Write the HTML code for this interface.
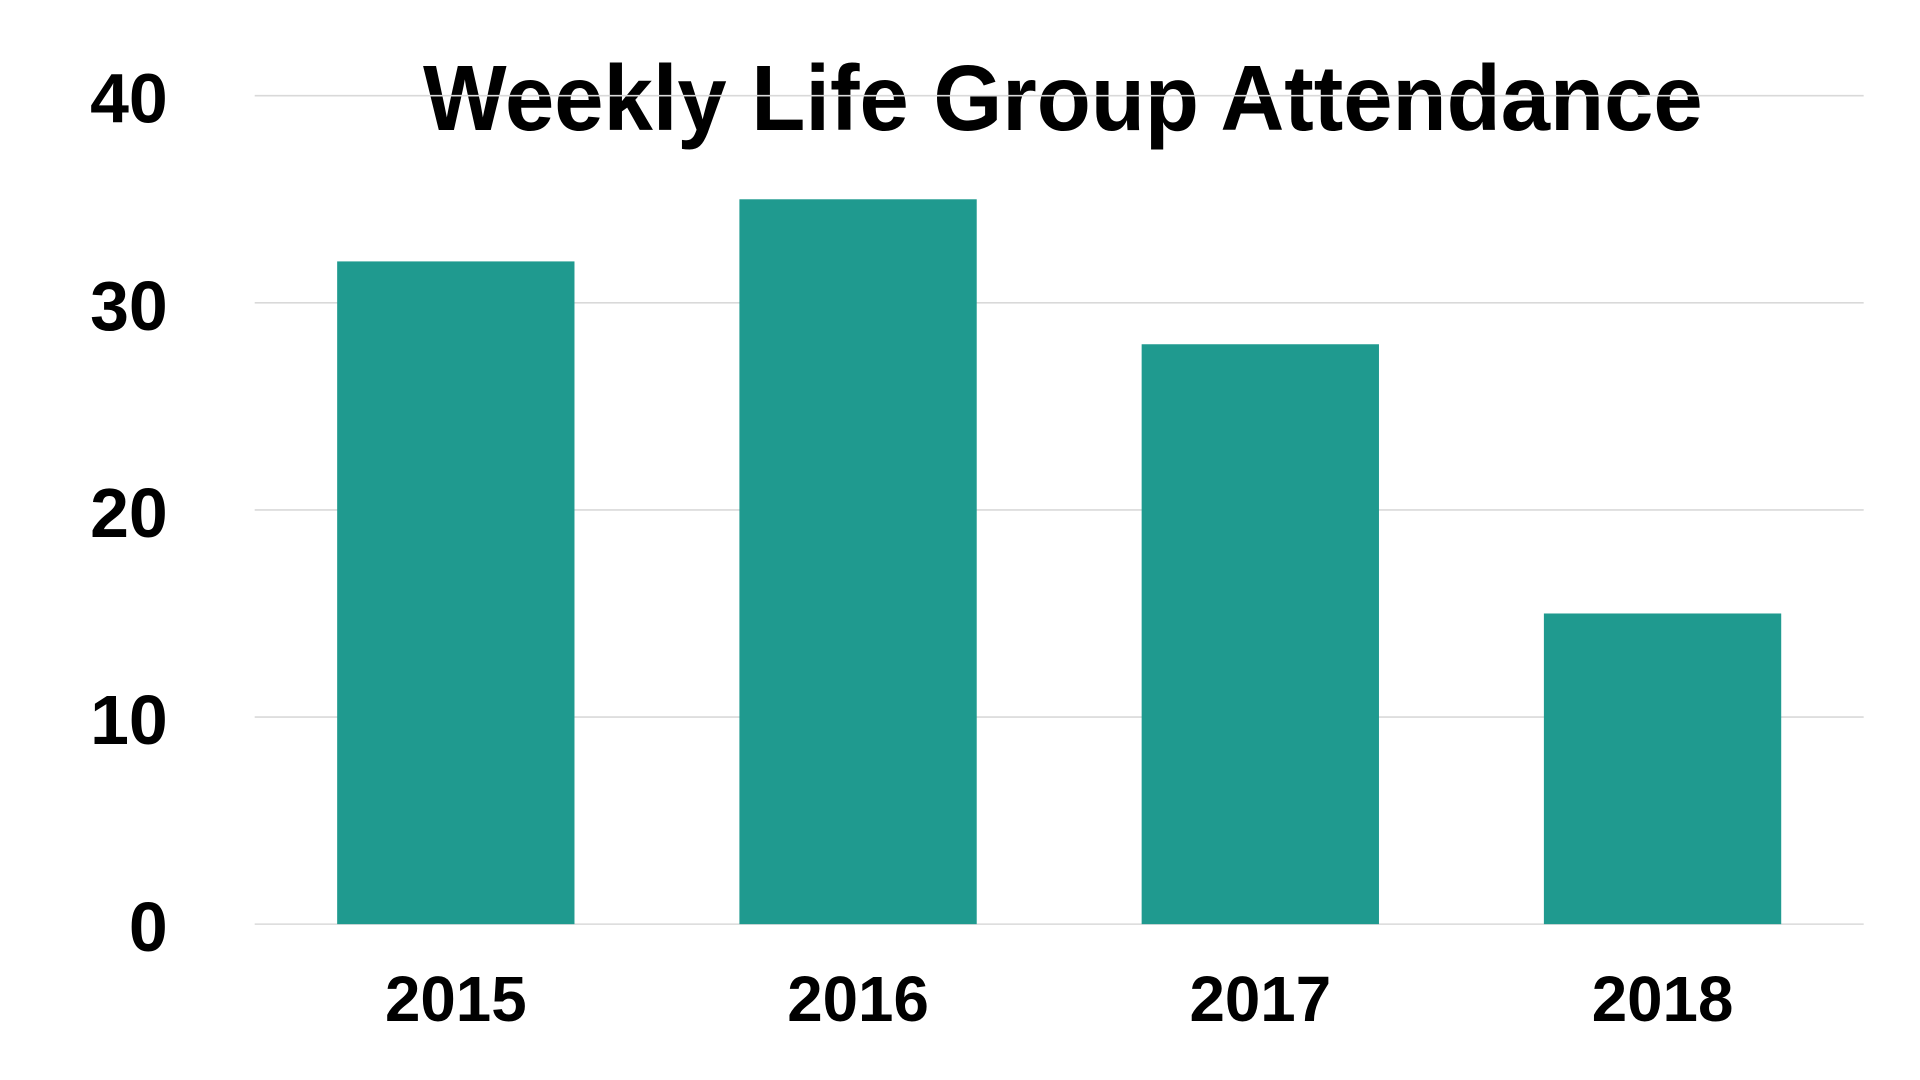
<!DOCTYPE html>
<html><head><meta charset="utf-8"><style>
html,body{margin:0;padding:0;background:#fff;width:1920px;height:1080px;overflow:hidden}
svg{display:block}
text{font-family:"Liberation Sans",sans-serif;font-weight:bold;fill:#000}
</style></head><body>
<svg id="chart" width="1920" height="1080" viewBox="0 0 1568 880" preserveAspectRatio="none" xmlns="http://www.w3.org/2000/svg">
<text x="868" y="106" text-anchor="middle" font-size="76" textLength="1045" lengthAdjust="spacingAndGlyphs">Weekly Life Group Attendance</text>
<g id="grid"></g>
<g id="bars"></g>
<g id="ylab"></g>
<g id="xlab"></g>
</svg>
<script>
const categories = ["2015","2016","2017","2018"];
const values = [32, 35, 28, 15];
const yTicks = [0, 10, 20, 30, 40];
const NS = "http://www.w3.org/2000/svg";
const x0 = 208, x1 = 1522, yTop = 78, yBot = 753, yMax = 40;
function yScale(v){ return yBot - (v / yMax) * (yBot - yTop); }
const band = (x1 - x0) / categories.length;
function xCenter(i){ return x0 + band * (i + 0.5); }
const barW = band * 0.59;
const grid = document.getElementById('grid');
const ylab = document.getElementById('ylab');
yTicks.forEach(t => {
  const l = document.createElementNS(NS, 'line');
  
  
  l.setAttribute('x1', x0); l.setAttribute('x2', x1);
  l.setAttribute('y1', yScale(t)); l.setAttribute('y2', yScale(t));
  l.setAttribute('stroke', '#d9d9d9'); l.setAttribute('stroke-width', '1.3');
  grid.appendChild(l);
  const tx = document.createElementNS(NS, 'text');
  
  
  tx.setAttribute('x', 137); tx.setAttribute('y', yScale(t) + 22);
  tx.setAttribute('text-anchor', 'end'); tx.setAttribute('font-size', '57');
  tx.textContent = t;
  ylab.appendChild(tx);
});
const bars = document.getElementById('bars');
const xlab = document.getElementById('xlab');
categories.forEach((c, i) => {
  const r = document.createElementNS(NS, 'rect');
  
  
  r.setAttribute('x', xCenter(i) - barW / 2);
  r.setAttribute('width', barW);
  r.setAttribute('y', yScale(values[i]));
  r.setAttribute('height', yBot - yScale(values[i]));
  r.setAttribute('fill', '#1f9a8f');
  bars.appendChild(r);
  const tx = document.createElementNS(NS, 'text');
  
  
  tx.setAttribute('x', xCenter(i)); tx.setAttribute('y', 832);
  tx.setAttribute('text-anchor', 'middle'); tx.setAttribute('font-size', '52');
  tx.textContent = c;
  xlab.appendChild(tx);
});
</script>
</body></html>
